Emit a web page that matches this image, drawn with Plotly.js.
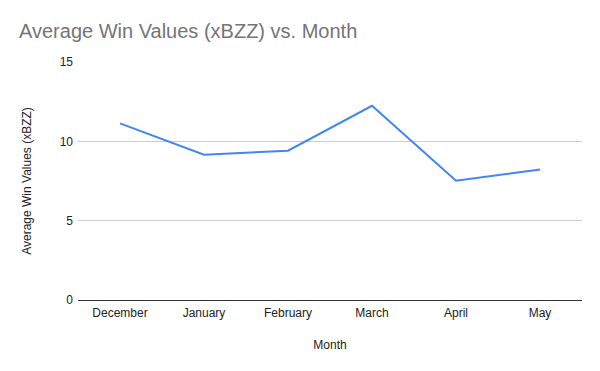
<!DOCTYPE html>
<html>
<head>
<meta charset="utf-8">
<script src="https://cdn.plot.ly/plotly-3.0.1.min.js"></script>
<style>html,body{margin:0;padding:0;background:#fff;}#chart{width:600px;height:371px;}</style>
</head>
<body>
<div id="chart"></div>
<script>
const months = ["December", "January", "February", "March", "April", "May"];
const avgWinValues = [11.13, 9.16, 9.41, 12.24, 7.52, 8.23];
const yTicks = [0, 5, 10, 15];

const trace = {
  x: months,
  y: avgWinValues,
  type: "scatter",
  mode: "lines",
  line: {color: "#4285F4", width: 2},
  hoverinfo: "skip"
};

const layout = {
  width: 600,
  height: 371,
  margin: {l: 78, r: 18, t: 62, b: 71},
  paper_bgcolor: "#ffffff",
  plot_bgcolor: "#ffffff",
  showlegend: false,
  font: {family: "Arial, 'Liberation Sans', sans-serif", size: 12, color: "#222222"},
  title: {
    text: "Average Win Values (xBZZ) vs. Month",
    font: {family: "Arial, 'Liberation Sans', sans-serif", size: 20, color: "#757575"},
    x: 19/600, xanchor: "left", xref: "container",
    y: 1 - 31/371, yanchor: "middle", yref: "container"
  },
  xaxis: {
    type: "category",
    range: [-0.5, months.length - 0.5],
    showgrid: false,
    showline: false,
    zeroline: false,
    ticks: "",
    ticklabelstandoff: 4,
    tickfont: {size: 12, color: "#222222"},
    title: {text: "Month", font: {size: 12, color: "#222222"}, standoff: 21}
  },
  yaxis: {
    range: [0, 15],
    tickvals: yTicks,
    ticktext: yTicks.map(String),
    showgrid: true,
    gridcolor: "#cccccc",
    gridwidth: 1,
    zeroline: true,
    zerolinecolor: "#333333",
    zerolinewidth: 1,
    showline: false,
    ticks: "",
    ticklabelstandoff: 4,
    tickfont: {size: 12, color: "#222222"},
    title: {text: "Average Win Values (xBZZ)", font: {size: 12, color: "#222222"}, standoff: 25}
  }
};

Plotly.newPlot("chart", [trace], layout, {displayModeBar: false, staticPlot: true});
</script>
</body>
</html>
